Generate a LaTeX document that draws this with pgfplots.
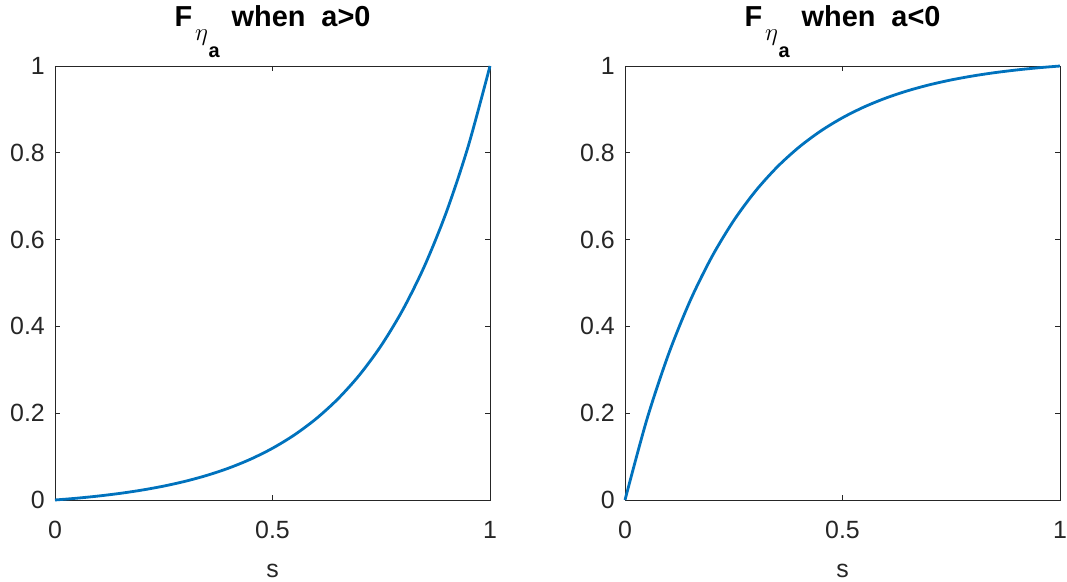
\documentclass[border=0pt]{standalone}
\usepackage{fontspec}
\setmainfont{Liberation Sans}
\usepackage{pgfplots}
\pgfplotsset{compat=1.18}
\definecolor{mblue}{rgb}{0,0.447,0.741}
\definecolor{mgray}{rgb}{0.15,0.15,0.15}
\newcommand{\Fsub}{F\hspace{3bp}\raisebox{-14bp}{\fontsize{24}{24}\selectfont$\eta$\hspace{0.5bp}\raisebox{-17bp}{\fontsize{20}{20}\selectfont\bfseries a}}\hspace{12bp}}
\pgfplotsset{
  myax/.style={
    scale only axis, width=435bp, height=434bp,
    xmin=0, xmax=1, ymin=0, ymax=1,
    xtick={0,0.5,1}, ytick={0,0.2,0.4,0.6,0.8,1},
    xticklabels={0,0.5,1}, yticklabels={0,0.2,0.4,0.6,0.8,1},
    tick align=inside, major tick length=5bp,
    axis line style={mgray, line width=0.7bp},
    every tick/.style={mgray, line width=0.7bp},
    tick label style={font=\fontsize{25}{30}\selectfont, text=mgray},
    xticklabel style={anchor=base, yshift=-38bp, inner sep=0pt},
    yticklabel style={anchor=east, xshift=-10bp, inner sep=0pt},
    xlabel style={at={(axis description cs:0.5,0)}, anchor=base, yshift=-77bp, font=\fontsize{25}{30}\selectfont, text=mgray, inner sep=0pt},
    every axis title/.style={at={(axis description cs:0.5,1)}, anchor=base, yshift=39bp, font=\fontsize{29}{32}\selectfont\bfseries, inner sep=0pt},
    clip=false,
    xlabel={s},
  }
}
\begin{document}
\begin{tikzpicture}
\useasboundingbox (0,0) rectangle (1067bp,582bp);
\begin{axis}[myax, at={(55bp,82bp)}, anchor=south west,
  title={\Fsub when\hspace{16bp}a>0}]
\addplot[mblue, line width=2.8bp, smooth] coordinates {
(0,0) (0.05,0.00413) (0.1,0.00918) (0.15,0.01534) (0.2,0.02287) (0.25,0.03206)
(0.3,0.04329) (0.35,0.05700) (0.4,0.07375) (0.45,0.09421) (0.5,0.11920)
(0.55,0.14973) (0.6,0.18701) (0.65,0.23254) (0.7,0.28816) (0.75,0.35609)
(0.8,0.43905) (0.85,0.54039) (0.9,0.66417) (0.95,0.81535) (1,1)};
\end{axis}
\begin{axis}[myax, at={(625bp,82bp)}, anchor=south west,
  title={\Fsub when\hspace{16bp}a<0}]
\addplot[mblue, line width=2.8bp, smooth] coordinates {
(0,0) (0.05,0.18465) (0.1,0.33583) (0.15,0.45961) (0.2,0.56095) (0.25,0.64391)
(0.3,0.71184) (0.35,0.76746) (0.4,0.81299) (0.45,0.85027) (0.5,0.88080)
(0.55,0.90579) (0.6,0.92625) (0.65,0.94300) (0.7,0.95671) (0.75,0.96794)
(0.8,0.97713) (0.85,0.98466) (0.9,0.99082) (0.95,0.99587) (1,1)};
\end{axis}
\end{tikzpicture}
\end{document}
